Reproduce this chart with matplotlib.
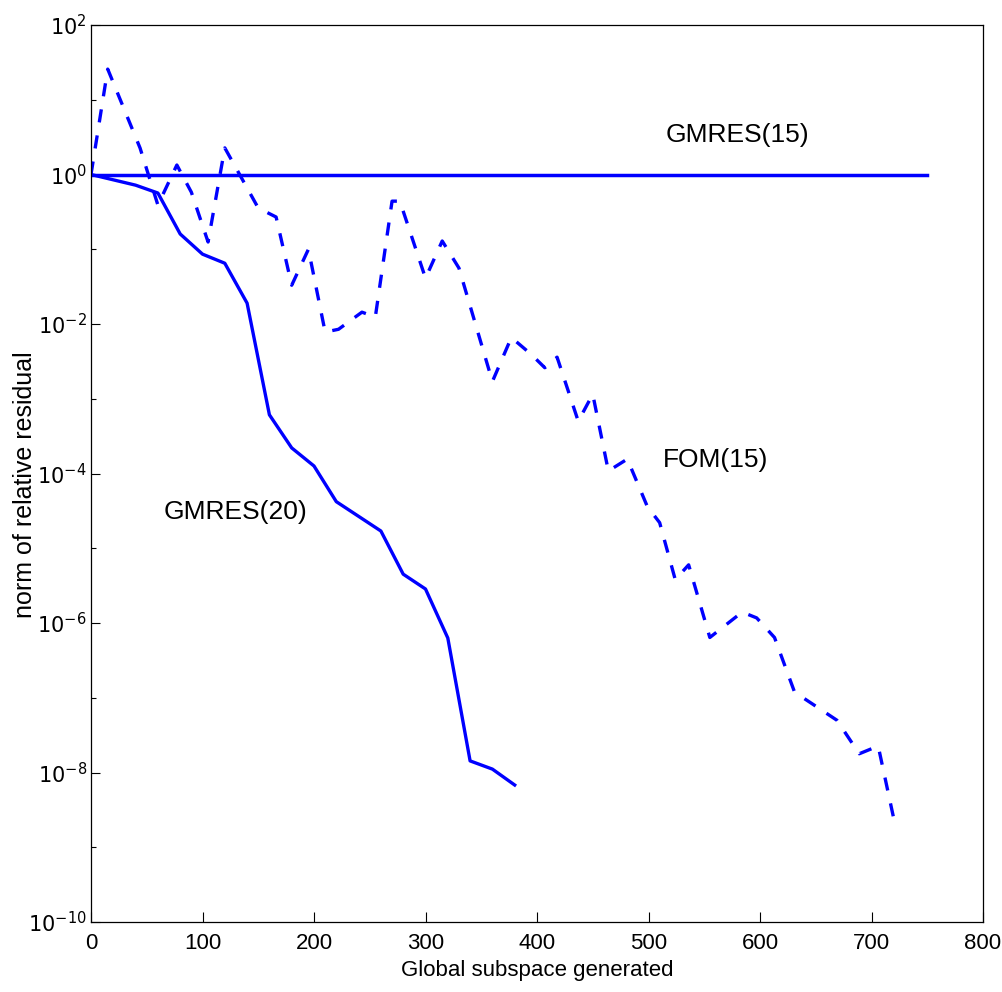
import matplotlib
matplotlib.use("Agg")
import matplotlib.pyplot as plt
from matplotlib.ticker import FixedLocator, FuncFormatter, NullFormatter
import math

plt.rcParams['lines.scale_dashes'] = False

# ---- data ----
gm15_x = [0, 750]
gm15_y = [1.0, 1.0]

gm20_x = [0, 40, 60, 80, 100, 120, 140, 160, 180, 200, 220, 260, 280, 300, 320, 340, 360, 380]
gm20_y = [1.0, 0.72, 0.565, 0.16, 0.086, 0.065, 0.019, 6.1e-4, 2.2e-4, 1.26e-4, 4.2e-5,
          1.7e-5, 4.5e-6, 2.85e-6, 6.3e-7, 1.43e-8, 1.11e-8, 6.8e-9]

fom_x = [0, 15, 44, 60, 77, 90, 105, 120, 150, 166, 180, 195, 210, 222, 243, 255, 270, 277,
         300, 315, 330, 360, 377, 395, 407, 418, 437, 450, 464, 481, 499, 510, 524, 536,
         555, 584, 597, 613, 631, 669, 689, 706, 720]
fom_y = [1.0, 25.7, 2.26, 0.39, 1.34, 0.58, 0.125, 2.27, 0.356, 0.27, 0.033, 0.1, 0.0078,
         0.0085, 0.0144, 0.0124, 0.44, 0.44, 0.041, 0.129, 0.056, 0.0017, 0.0066, 0.0039,
         0.0026, 0.0036, 5.0e-4, 1.15e-3, 1.08e-4, 1.56e-4, 3.6e-5, 2.2e-5, 3.8e-6, 6.0e-6,
         6.4e-7, 1.4e-6, 1.17e-6, 6.4e-7, 1.19e-7, 5.0e-8, 1.78e-8, 2.26e-8, 2.4e-9]

xticks = [0, 100, 200, 300, 400, 500, 600, 700, 800]
ymajor_exp = [-10, -8, -6, -4, -2, 0, 2]
yminor_exp = [-9, -7, -5, -3, -1, 1]

labels = [("GMRES(15)", 580, 3.37), ("FOM(15)", 560, 1.5e-4), ("GMRES(20)", 130, 3.05e-5)]

# ---- fonts ----
sans = ['Liberation Sans', 'DejaVu Sans']

fig = plt.figure(figsize=(10.02, 9.92), dpi=100)
ax = fig.add_axes([91/1002, 70/992, 892/1002, 897/992])

blue = '#0000ff'
ax.plot(gm15_x, gm15_y, color=blue, lw=2.5)
ax.plot(gm20_x, gm20_y, color=blue, lw=2.4)
ax.plot(fom_x, fom_y, color=blue, lw=2.4, dashes=(9.5, 9.5))

ax.set_yscale('log')
ax.set_xlim(0, 800)
ax.set_ylim(1e-10, 1e2)

ax.xaxis.set_major_locator(FixedLocator(xticks))
ax.yaxis.set_major_locator(FixedLocator([10.0**e for e in ymajor_exp]))
ax.yaxis.set_minor_locator(FixedLocator([10.0**e for e in yminor_exp]))
ax.yaxis.set_minor_formatter(NullFormatter())


def yfmt(v, pos):
    e = int(round(math.log10(v)))
    return r'$\mathregular{10^{%d}}$' % e


ax.yaxis.set_major_formatter(FuncFormatter(yfmt))

ax.tick_params(axis='x', which='major', direction='in', length=7, width=0.8,
               labelsize=16, pad=8, top=False)
ax.tick_params(axis='y', which='major', direction='in', length=6.5, width=0.8,
               labelsize=15, pad=3, right=False)
ax.tick_params(axis='y', which='minor', direction='in', length=3.6, width=0.8, right=False)
for lab in ax.get_xticklabels():
    lab.set_family(sans)
for lab in ax.get_yticklabels():
    lab.set_family('DejaVu Sans')

for s in ax.spines.values():
    s.set_linewidth(0.9)

ax.set_xlabel('Global subspace generated', family=sans, fontsize=16, labelpad=4)
ax.set_ylabel('norm of relative residual', family=sans, fontsize=18)
ax.yaxis.set_label_coords(-0.061, 0.488)

for t, x, y in labels:
    ax.text(x, y, t, family=sans, fontsize=19, ha='center', va='center')

fig.savefig('out.png', dpi=100)
